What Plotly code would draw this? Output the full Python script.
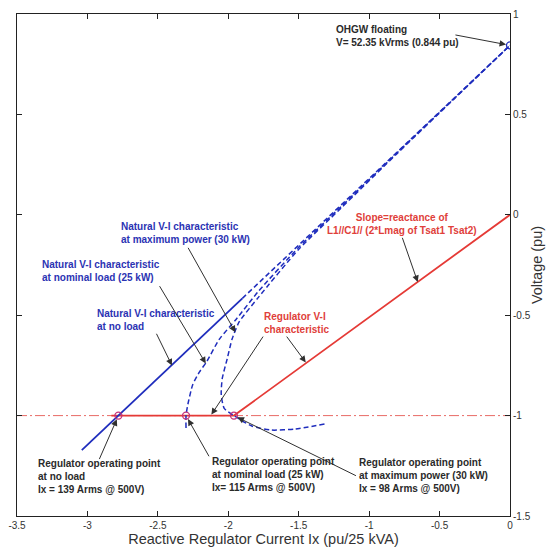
import plotly.graph_objects as go

# ---- data -------------------------------------------------------------
# Regulator operating currents (Arms @ 500 V); base current 25 kVA / 500 V
ix_arms = [139, 115, 98]
i_base = 50.0
v_float = 0.844          # OHGW floating voltage (pu)
v_reg = -1.0             # regulator voltage level (pu)
op_i = [-a / i_base for a in ix_arms]

# Natural V-I characteristic at no load (straight line to the floating point)
noload_solid_i = [-3.04, op_i[0], -1.9]
noload_solid_v = [-1.172, v_reg, -0.416]
noload_dash_i = [-1.9, 0.0]
noload_dash_v = [-0.416, v_float]

# Natural V-I characteristic at nominal load (25 kW)
nom_i = [-2.300, op_i[1], -2.287, -2.252, -2.203, -2.154, -2.063, -1.945,
         -1.785, -1.50, -1.20, -0.80, -0.40, 0.0]
nom_v = [-1.062, v_reg, -0.944, -0.845, -0.781, -0.732, -0.619, -0.521,
         -0.380, -0.162, 0.040, 0.310, 0.577, v_float]

# Natural V-I characteristic at maximum power (30 kW)
max_i = [-1.317, -1.527, -1.694, -1.833, op_i[2], -2.029, -2.050, -2.043,
         -2.008, -1.973, -1.924, -1.785, -1.50, -1.20, -0.80, -0.40, 0.0]
max_v = [-1.042, -1.067, -1.072, -1.052, v_reg, -0.964, -0.895, -0.816,
         -0.718, -0.619, -0.535, -0.410, -0.172, 0.033, 0.306, 0.575, v_float]

# Regulator V-I characteristic
reg_i = [-2.83, op_i[2], 0.0]
reg_v = [v_reg, v_reg, 0.0]
ref_i = [-3.5, 0.0]
ref_v = [v_reg, v_reg]

x_ticks = [-3.5, -3, -2.5, -2, -1.5, -1, -0.5, 0]
x_labels = ["-3.5", "-3", "-2.5", "-2", "-1.5", "-1", "-0.5", "0"]
y_ticks = [-1.5, -1, -0.5, 0, 0.5, 1]
y_labels = ["-1.5", "-1", "-0.5", "0", "0.5", "1"]

# ---- styling ------------------------------------------------------------
BLUE = "#1f2dbd"
BLUE_TXT = "#2b33b3"
RED = "#e53a36"
RED_TXT = "#e0403a"
MARK = "#c4327a"
DARK = "#2a2a2a"
FONT = "Liberation Sans, Arial, sans-serif"

fig = go.Figure()

fig.add_trace(go.Scatter(x=ref_i, y=ref_v, mode="lines",
                         line=dict(color="#e86a66", width=1, dash="10px,3px,2px,3px")))
fig.add_trace(go.Scatter(x=reg_i, y=reg_v, mode="lines",
                         line=dict(color=RED, width=1.8)))
fig.add_trace(go.Scatter(x=noload_solid_i, y=noload_solid_v, mode="lines",
                         line=dict(color=BLUE, width=1.8)))
fig.add_trace(go.Scatter(x=noload_dash_i, y=noload_dash_v, mode="lines",
                         line=dict(color=BLUE, width=1.5, dash="5px,3px")))
fig.add_trace(go.Scatter(x=nom_i, y=nom_v, mode="lines",
                         line=dict(color=BLUE, width=1.5, dash="5px,3px",
                                   shape="spline", smoothing=0.6)))
fig.add_trace(go.Scatter(x=max_i, y=max_v, mode="lines",
                         line=dict(color=BLUE, width=1.5, dash="5px,3px",
                                   shape="spline", smoothing=0.6)))
fig.add_trace(go.Scatter(x=op_i, y=[v_reg] * 3, mode="markers",
                         marker=dict(symbol="circle-open", size=7,
                                     color=MARK, line=dict(width=1.3))))
fig.add_trace(go.Scatter(x=[0.0], y=[v_float], mode="markers",
                         marker=dict(symbol="circle-open", size=7,
                                     color=BLUE, line=dict(width=1.3))))

# ---- text labels ----------------------------------------------------------
labels = [
    ("OHGW floating<br>V= 52.35 kVrms (0.844 pu)", -1.250, 0.889, "left", DARK),
    ("Natural V-I characteristic<br>at maximum power (30 kW)", -2.773, -0.0925, "left", BLUE_TXT),
    ("Natural V-I characteristic<br>at nominal load (25 kW)", -3.339, -0.282, "left", BLUE_TXT),
    ("Natural V-I characteristic<br>at no load", -2.948, -0.526, "left", BLUE_TXT),
    ("Regulator V-I<br>characteristic", -1.760, -0.540, "left", RED_TXT),
    ("Slope=reactance of<br>L1//C1// (2*Lmag of Tsat1 Tsat2)", -0.768, -0.048, "center", RED_TXT),
    ("Regulator operating point<br>at no load<br>Ix = 139 Arms @ 500V)", -3.367, -1.303, "left", DARK),
    ("Regulator operating point<br>at nominal load (25 kW)<br>Ix= 115 Arms @ 500V)", -2.131, -1.293, "left", DARK),
    ("Regulator operating point<br>at maximum power (30 kW)<br>Ix = 98 Arms @ 500V)", -1.083, -1.298, "left", DARK),
]
annotations = []
for text, x, y, anchor, color in labels:
    annotations.append(dict(x=x, y=y, xref="x", yref="y", text=text,
                            showarrow=False, xanchor=anchor, yanchor="middle",
                            align=anchor, font=dict(family=FONT, size=10, color=color,
                                                    weight="bold")))

# ---- pointer arrows (tail -> head) ------------------------------------------
arrows = [
    (-0.398, 0.897, 0.0, v_float, 4),
    (-2.291, -0.157, -1.950, -0.585, 0),
    (-2.494, -0.348, -2.160, -0.740, 0),
    (-2.515, -0.585, -2.400, -0.750, 0),
    (-1.746, -0.599, -2.120, -0.995, 0),
    (-1.593, -0.599, -1.450, -0.735, 0),
    (-0.768, -0.107, -0.655, -0.335, 0),
    (-2.920, -1.224, op_i[0], v_reg, 4),
    (-2.131, -1.210, op_i[1], v_reg, 4),
    (-1.083, -1.303, op_i[2], v_reg, 4),
]
for tx, ty, hx, hy, so in arrows:
    annotations.append(dict(x=hx, y=hy, ax=tx, ay=ty, xref="x", yref="y",
                            axref="x", ayref="y", text="", showarrow=True,
                            arrowhead=2, arrowsize=1.3, arrowwidth=1,
                            arrowcolor="#303030", standoff=so))

axis_common = dict(showline=True, linecolor="#222", linewidth=1, mirror="ticks",
                   ticks="inside", ticklen=5, tickcolor="#222", showgrid=False,
                   zeroline=False, tickfont=dict(family=FONT, size=10, color="#333"))

fig.update_layout(
    width=551, height=551,
    margin=dict(l=14, r=36, t=8, b=35),
    paper_bgcolor="white", plot_bgcolor="white",
    showlegend=False,
    annotations=annotations,
    xaxis=dict(range=[-3.5, 0], tickvals=x_ticks, ticktext=x_labels,
               title=dict(text="Reactive Regulator Current Ix (pu/25 kVA)",
                          font=dict(family=FONT, size=14.5, color="#333"),
                          standoff=2),
               **axis_common),
    yaxis=dict(range=[-1.5, 1], tickvals=y_ticks, ticktext=y_labels, side="right",
               title=dict(text="Voltage (pu)",
                          font=dict(family=FONT, size=14.5, color="#333"),
                          standoff=2),
               **axis_common),
)

fig.write_html("out.html")
